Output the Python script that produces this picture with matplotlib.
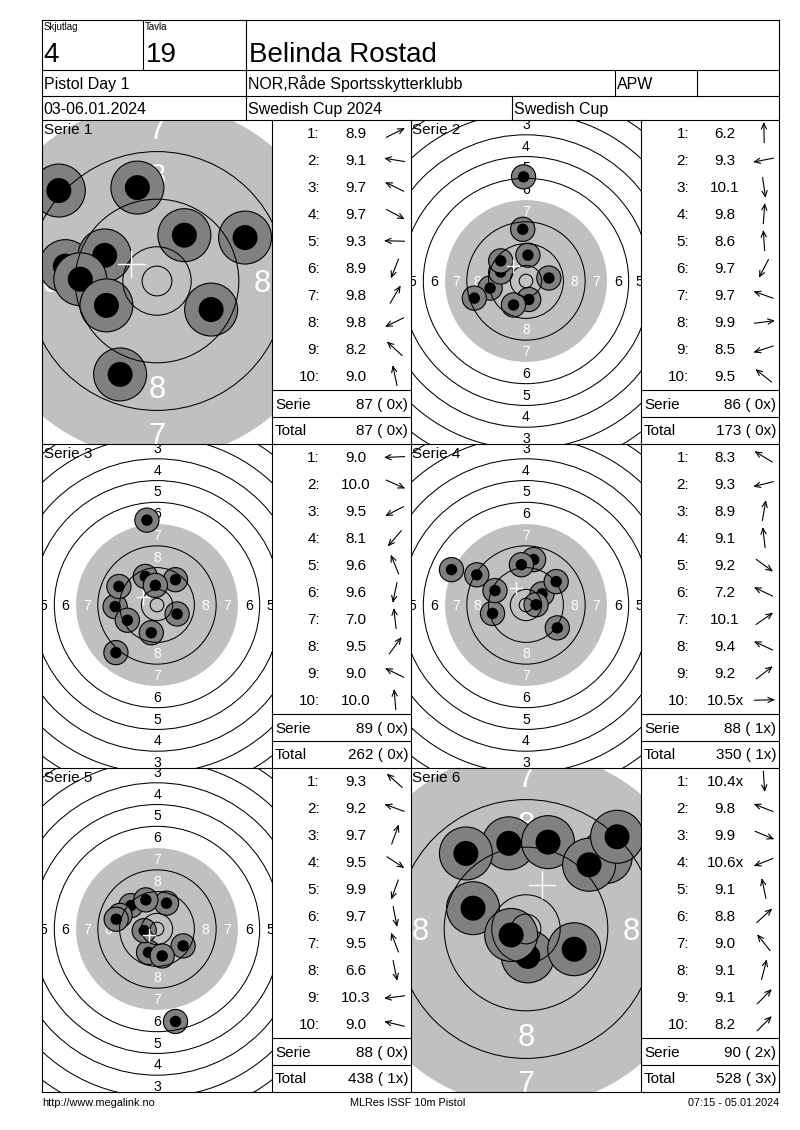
import matplotlib
matplotlib.use('Agg')
import matplotlib.pyplot as plt
from matplotlib.patches import Circle
import numpy as np

plt.rcParams['font.family'] = ['Liberation Sans', 'DejaVu Sans']

# ---------------- data ----------------
skjutlag = '4'
tavla = '19'
shooter = 'Belinda Rostad'
event = 'Pistol Day 1'
club = 'NOR,Råde Sportsskytterklubb'
klass = 'APW'
dates = '03-06.01.2024'
competition = 'Swedish Cup 2024'
cup = 'Swedish Cup'
footer_left = 'http://www.megalink.no'
footer_mid = 'MLRes ISSF 10m Pistol'
footer_right = '07:15 - 05.01.2024'

series_names = ['Serie 1', 'Serie 2', 'Serie 3', 'Serie 4', 'Serie 5', 'Serie 6']

# shot positions in mm from target centre (x right, y up)
s1_x = [14.8, -15.4, -8.8, 9.1, -12.9, -6.2, 4.6, -8.5, -16.5, -3.3]
s1_y = [7.3, 2.5, 4.3, -4.8, 0.3, -15.7, 7.7, -4.1, 15.2, 15.7]
s1_score = [8.9, 9.1, 9.7, 9.7, 9.3, 8.9, 9.8, 9.8, 8.2, 9.0]
s1_inner = [0, 0, 0, 0, 0, 0, 0, 0, 0, 0]

s2_x = [-0.9, -13.2, 1.0, 0.7, -1.2, -4.6, -9.3, 8.4, -19.0, -9.3]
s2_y = [38.3, -2.6, -6.8, 9.5, 19.0, -8.8, 3.3, 1.1, -6.3, 7.4]
s2_score = [6.2, 9.3, 10.1, 9.8, 8.6, 9.7, 9.7, 9.9, 8.5, 9.5]
s2_inner = [0, 0, 0, 0, 0, 0, 0, 0, 0, 0]

s3_x = [-15.4, 7.4, -10.9, -15.1, -4.3, -2.1, -3.7, 6.8, -14.0, -0.6]
s3_y = [-0.6, -3.3, -5.6, -17.5, 10.5, -10.2, 31.2, 9.3, 6.8, 7.2]
s3_score = [9.0, 10.0, 9.5, 8.1, 9.6, 9.6, 7.0, 9.5, 9.0, 10.0]
s3_inner = [0, 0, 0, 0, 0, 0, 0, 0, 0, 0]

s4_x = [-18.1, -12.3, 2.8, -1.7, 11.5, -27.4, 5.9, -11.4, 11.1, 3.7]
s4_y = [11.1, -3.1, 16.7, 14.8, -8.4, 13.0, 4.1, 5.3, 8.6, 0.1]
s4_score = [8.3, 9.3, 8.9, 9.1, 9.2, 7.2, 10.1, 9.4, 9.2, 10.5]
s4_inner = [0, 0, 0, 0, 0, 0, 0, 0, 0, 1]

s5_x = [-9.6, -13.6, 3.5, 9.6, -3.1, 1.9, -4.1, 6.8, -4.7, -15.0]
s5_y = [8.6, 5.0, 9.5, -6.2, -8.6, -9.9, 10.7, -34.0, -0.6, 3.6]
s5_score = [9.3, 9.2, 9.7, 9.5, 9.9, 9.7, 9.5, 6.6, 10.3, 9.0]
s5_inner = [0, 0, 0, 0, 0, 0, 0, 0, 0, 0]

s6_x = [0.3, -8.9, 8.1, -2.5, -2.9, 13.4, -10.1, 3.7, 10.6, 15.3]
s6_y = [-4.6, 3.5, -3.4, -1.0, 14.4, 12.1, 12.7, 14.6, 10.8, 15.5]
s6_score = [10.4, 9.8, 9.9, 10.6, 9.1, 8.8, 9.0, 9.1, 9.1, 8.2]
s6_inner = [1, 0, 0, 1, 0, 0, 0, 0, 0, 0]

serie_sum = [87, 86, 89, 88, 88, 90]
serie_xs = [0, 0, 0, 1, 0, 2]
total_sum = [87, 173, 262, 350, 438, 528]
total_xs = [0, 0, 0, 1, 1, 3]

all_x = [s1_x, s2_x, s3_x, s4_x, s5_x, s6_x]
all_y = [s1_y, s2_y, s3_y, s4_y, s5_y, s6_y]
all_score = [s1_score, s2_score, s3_score, s4_score, s5_score, s6_score]
all_inner = [s1_inner, s2_inner, s3_inner, s4_inner, s5_inner, s6_inner]

# ---------------- layout / style ----------------
W, H = 800, 1130
view_scale = [5.95, 2.72, 2.72, 2.72, 2.72, 5.95]   # px per mm in each target view
ROW_TOPS = [120, 444, 768]
ROW_H = 324
TGT_X = [(42, 272), (411, 641)]
TBL_X = [(272, 411), (641, 779)]
TARGET_GRAY = '#C0C0C0'
HOLE_GRAY = '#808080'
RING_R = {n: 5.75 + 8 * (10 - n) for n in range(1, 11)}
X_R = 2.5

fig = plt.figure(figsize=(W / 100, H / 100), dpi=100)


def draw_target(x0, y0, x1, y1, scale, xs, ys):
    tax = fig.add_axes([x0 / W, 1 - y1 / H, (x1 - x0) / W, (y1 - y0) / H])
    cx = (x0 + x1) / 2.0
    cy = y0 + 161
    xl, xr = (x0 - cx) / scale, (x1 - cx) / scale
    yb, yt = (cy - y1) / scale, (cy - y0) / scale
    tax.set_xlim(xl, xr)
    tax.set_ylim(yb, yt)
    tax.axis('off')
    tax.add_patch(Circle((0, 0), RING_R[7], fc=TARGET_GRAY, ec='none', zorder=1))
    fs = 3.72 * scale
    em_mm = fs * (100 / 72) / scale
    m = 0.45 * em_mm
    for n in range(1, 9):
        r = RING_R[n] - 4
        col = 'white' if n >= 7 else 'black'
        for (px, py) in [(0, r), (0, -r), (r, 0), (-r, 0)]:
            if not (xl - m < px < xr + m and yb - m < py < yt + m):
                continue
            t = tax.text(px, py - 0.358 * em_mm, str(n), ha='center', va='baseline',
                         fontsize=fs, color=col, zorder=2, clip_on=True)
            t.set_clip_path(tax.patch)
    for x, y in zip(xs, ys):
        tax.add_patch(Circle((x, y), 4.45, fc=HOLE_GRAY, ec='black', lw=0.8, zorder=3))
        tax.add_patch(Circle((x, y), 2.1, fc='black', ec='none', zorder=3))
    for n in [1, 2, 3, 4, 5, 6, 8, 9, 10]:
        tax.add_patch(Circle((0, 0), RING_R[n], fc='none', ec='black', lw=0.75, zorder=4))
    tax.add_patch(Circle((0, 0), X_R, fc='none', ec='black', lw=0.75, zorder=4))
    mx, my = np.mean(xs), np.mean(ys)
    c = 2.25
    tax.plot([mx - c, mx + c], [my, my], color='white', lw=1.0, zorder=5)
    tax.plot([mx, mx], [my - c, my + c], color='white', lw=1.0, zorder=5)


for i in range(6):
    row, col = divmod(i, 2)
    top = ROW_TOPS[row]
    x0, x1 = TGT_X[col]
    draw_target(x0, top, x1, top + ROW_H, view_scale[i], all_x[i], all_y[i])

# overlay axes in pixel coordinates
ax = fig.add_axes([0, 0, 1, 1], facecolor='none')
ax.set_xlim(0, W)
ax.set_ylim(H, 0)
ax.axis('off')

LW = 0.8


def L(xa, ya, xb, yb):
    ax.plot([xa, xb], [ya, yb], color='black', lw=LW, solid_capstyle='projecting')


def T(x, yc, s, size, ha='left'):
    em = size * 100 / 72
    ax.text(x, yc + 0.358 * em, s, fontsize=size, ha=ha, va='baseline', color='black')


def arrow(cx, cy, dx, dy, length=19, head=6, ang=25):
    d = np.hypot(dx, dy)
    ux, uy = dx / d, -dy / d
    xa, ya = cx - ux * length / 2, cy - uy * length / 2
    xb, yb = cx + ux * length / 2, cy + uy * length / 2
    ax.plot([xa, xb], [ya, yb], color='black', lw=0.8)
    vx, vy = -ux, -uy
    for s in (1, -1):
        a = np.radians(ang * s)
        hx = vx * np.cos(a) - vy * np.sin(a)
        hy = vx * np.sin(a) + vy * np.cos(a)
        ax.plot([xb, xb + hx * head], [yb, yb + hy * head], color='black', lw=0.8)


# header frame
L(42, 20, 779, 20)
L(42, 70, 779, 70)
L(42, 96, 779, 96)
L(143, 20, 143, 70)
L(246, 20, 246, 120)
L(614.5, 70, 614.5, 96)
L(696.5, 70, 696.5, 96)
L(511.7, 96, 511.7, 120)

T(44, 26.5, 'Skjutlag', 7)
T(145, 26.5, 'Tavla', 7)
T(43, 52.5, skjutlag, 20)
T(145.5, 52.5, tavla, 20)
T(249, 52.5, shooter, 20)
T(43.5, 83.5, event, 11.5)
T(247.5, 83.5, club, 11.5)
T(617, 83.5, klass, 11.5)
T(43.5, 108.5, dates, 11.5)
T(248, 108.5, competition, 11.5)
T(514, 108.5, cup, 11.5)

# grid frame
L(42, 20, 42, 1092)
L(779, 20, 779, 1092)
for yy in [120, 444, 768, 1092]:
    L(42, yy, 779, yy)
for xx in [272, 411, 641]:
    L(xx, 120, xx, 1092)

# tables and series labels
for i in range(6):
    row, col = divmod(i, 2)
    top = ROW_TOPS[row]
    tl, tr = TBL_X[col]
    x0, _ = TGT_X[col]
    T(x0 + 1.5, top + 8.5, series_names[i], 11)
    for k in range(10):
        yc = top + 13 + 27 * k
        v = all_score[i][k]
        s = f'{v:.1f}' + ('x' if all_inner[i][k] else '')
        T(tl + 48, yc, f'{k + 1}:', 11, 'right')
        T(tl + 84, yc, s, 11, 'center')
        arrow(tl + 123, yc, all_x[i][k], all_y[i][k])
    L(tl, top + 270, tr, top + 270)
    L(tl, top + 297, tr, top + 297)
    T(tl + 3, top + 283.5, 'Serie', 11)
    T(tr - 3, top + 283.5, f'{serie_sum[i]} ({serie_xs[i]:2d}x)', 11, 'right')
    T(tl + 3, top + 310, 'Total', 11)
    T(tr - 3, top + 310, f'{total_sum[i]} ({total_xs[i]:2d}x)', 11, 'right')

# footer
T(42.5, 1102.5, footer_left, 7.8)
T(408, 1102.5, footer_mid, 7.8, 'center')
T(779, 1102.5, footer_right, 7.8, 'right')

fig.savefig('out.png', dpi=100)
